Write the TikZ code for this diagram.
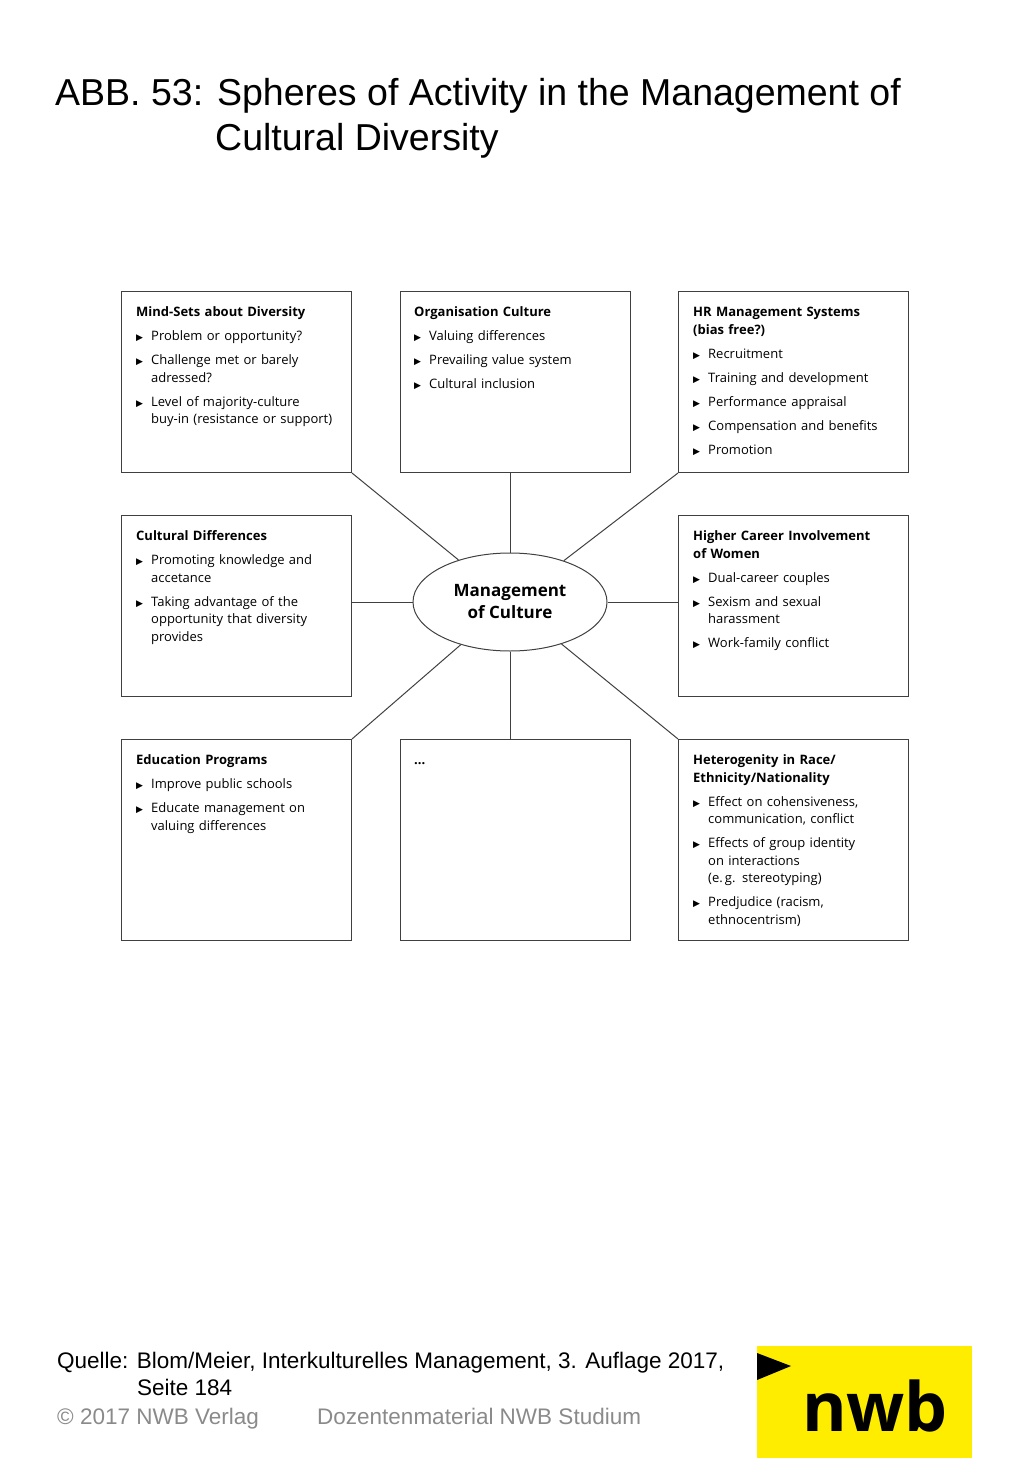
\documentclass[tikz,border=0pt]{standalone}
\usetikzlibrary{shapes.geometric}
\usepackage{fontspec}
\setmainfont{Liberation Sans}
\newfontfamily\boxfont{Open Sans}
\newfontfamily\dv{DejaVu Sans}
\definecolor{nwbyellow}{HTML}{FFED00}
\definecolor{gr}{HTML}{8A8A8A}
\newcommand\tri{{\dv\fontsize{9}{9}\selectfont ▶}}
\newcommand\bi[1]{\par\vspace{6.5pt}\hangindent=15pt\hangafter=1\noindent\makebox[15pt][l]{\tri}#1\par}
\newcommand\bt[1]{\par\noindent\textbf{#1}\par}
\begin{document}
\begin{tikzpicture}[x=1pt,y=-1pt,
  bx/.style={draw=black!75,line width=1pt,minimum width=230pt,inner sep=0pt},
  tx/.style={anchor=north west,inner sep=0pt,text width=210pt,font=\boxfont\fontsize{13}{17.5}\selectfont},
  ln/.style={draw=black!75,line width=1pt}]
\useasboundingbox (0,0) rectangle (1024,1479);
\node[anchor=north west,align=left,inner sep=0pt,font=\fontsize{37.5}{45}\selectfont] (title) at (55,78) {ABB. 53: Spheres of Activity in the Management of\\\hspace*{160pt}Cultural Diversity};
% boxes
\node[bx,minimum height=181pt,anchor=north west] (b1) at (121,291) {};
\node[bx,minimum height=181pt,anchor=north west] (b2) at (400,291) {};
\node[bx,minimum height=181pt,anchor=north west] (b3) at (678,291) {};
\node[bx,minimum height=181pt,anchor=north west] (b4) at (121,515) {};
\node[bx,minimum height=181pt,anchor=north west] (b6) at (678,515) {};
\node[bx,minimum height=201pt,anchor=north west] (b7) at (121,739) {};
\node[bx,minimum height=201pt,anchor=north west] (b8) at (400,739) {};
\node[bx,minimum height=201pt,anchor=north west] (b9) at (678,739) {};
\node[draw=black!75,line width=1pt,ellipse,minimum width=194pt,minimum height=98pt,inner sep=0pt,align=center,font=\boxfont\bfseries\fontsize{17}{22}\selectfont] (m) at (510,602) {Management\\of Culture};
% texts
\node[tx] (t1) at (136,299) {\bt{Mind-Sets about Diversity}\bi{Problem or opportunity?}\bi{Challenge met or barely\newline adressed?}\bi{Level of majority-culture\newline buy-in (resistance or support)}};
\node[tx] (t2) at (414,299) {\bt{Organisation Culture}\bi{Valuing differences}\bi{Prevailing value system}\bi{Cultural inclusion}};
\node[tx] (t3) at (693,299) {\bt{HR Management Systems\newline (bias free?)}\bi{Recruitment}\bi{Training and development}\bi{Performance appraisal}\bi{Compensation and benefits}\bi{Promotion}};
\node[tx] (t4) at (136,523) {\bt{Cultural Differences}\bi{Promoting knowledge and\newline accetance}\bi{Taking advantage of the\newline opportunity that diversity\newline provides}};
\node[tx] (t6) at (693,523) {\bt{Higher Career Involvement\newline of Women}\bi{Dual-career couples}\bi{Sexism and sexual\newline harassment}\bi{Work-family conflict}};
\node[tx] (t7) at (136,747) {\bt{Education Programs}\bi{Improve public schools}\bi{Educate management on\newline valuing differences}};
\node[tx] (t8) at (414,747) {\bt{...}};
\node[tx] (t9) at (693,747) {\bt{Heterogenity in Race/\newline Ethnicity/Nationality}\bi{Effect on cohensiveness,\newline communication, conflict}\bi{Effects of group identity\newline on interactions\newline (e.\,g. stereotyping)}\bi{Predjudice (racism,\newline ethnocentrism)}};
% connectors
\draw[ln] (b1.south east) -- (m);
\draw[ln] (m.north) -- (m.north |- b2.south);
\draw[ln] (b3.south west) -- (m);
\draw[ln] (m.west) -- (m.west -| b4.east);
\draw[ln] (m.east) -- (m.east -| b6.west);
\draw[ln] (b7.north east) -- (m);
\draw[ln] (m.south) -- (m.south |- b8.north);
\draw[ln] (b9.north west) -- (m);
% footer
\node[anchor=north west,align=left,inner sep=0pt,font=\fontsize{22.5}{27}\selectfont] (q) at (57,1352) {Quelle: Blom/Meier, Interkulturelles Management, 3. Auflage 2017,\\\hspace*{80pt}Seite 184};
\node[anchor=north west,inner sep=0pt,text=gr,font=\fontsize{22.5}{27}\selectfont] (c) at (57,1408) {© 2017 NWB Verlag};
\node[anchor=north west,inner sep=0pt,text=gr,font=\fontsize{22.5}{27}\selectfont] (d) at (317,1408) {Dozentenmaterial NWB Studium};
\node[fill=nwbyellow,minimum width=215pt,minimum height=112pt,anchor=north west,inner sep=0pt] (logo) at (757,1346) {};
\fill[black] (757,1353) -- (791,1366) -- (757,1380) -- cycle;
\node[font=\boxfont\bfseries\fontsize{68}{68}\selectfont,inner sep=0pt] (nwb) at (875,1406) {nwb};
\end{tikzpicture}
\end{document}
